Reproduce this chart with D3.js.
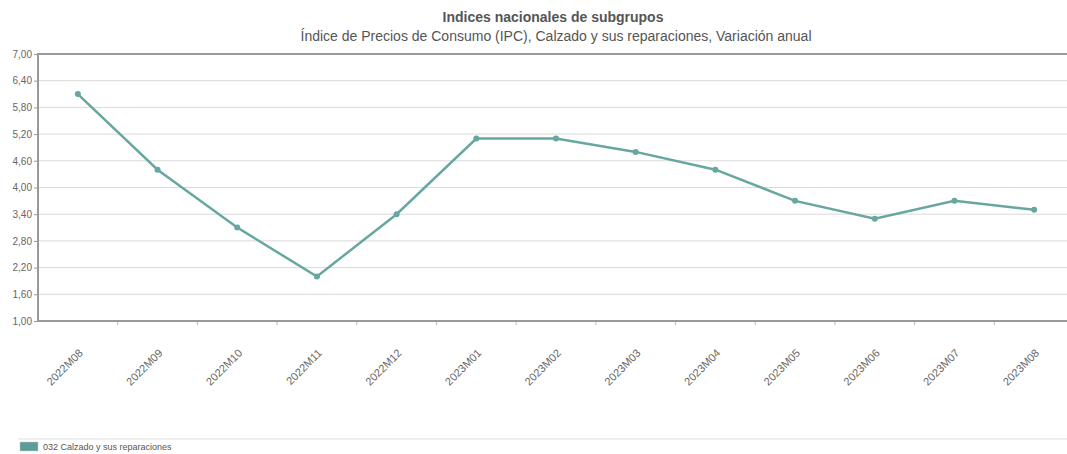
<!DOCTYPE html>
<html>
<head>
<meta charset="utf-8">
<script src="https://cdn.jsdelivr.net/npm/d3@7"></script>
<style>
  body { margin: 0; background: #fff; font-family: "Liberation Sans", Arial, sans-serif; }
  #chart { width: 1067px; height: 454px; overflow: hidden; }
</style>
</head>
<body>
<div id="chart"></div>
<script>
// data
var periods = ["2022M08", "2022M09", "2022M10", "2022M11", "2022M12", "2023M01", "2023M02",
               "2023M03", "2023M04", "2023M05", "2023M06", "2023M07", "2023M08"];
var values = [6.10, 4.40, 3.10, 2.00, 3.40, 5.10, 5.10, 4.80, 4.40, 3.70, 3.30, 3.70, 3.50];
var yTicks = [1.00, 1.60, 2.20, 2.80, 3.40, 4.00, 4.60, 5.20, 5.80, 6.40, 7.00];
var seriesName = "032 Calzado y sus reparaciones";
var title = "Indices nacionales de subgrupos";
var subtitle = "Índice de Precios de Consumo (IPC), Calzado y sus reparaciones, Variación anual";

var margin = { top: 54, left: 38 };
var plotW = 1036, plotH = 267;
var lineColor = "#67a7a0";

var svg = d3.select("#chart").append("svg")
    .attr("width", 1067)
    .attr("height", 454);

// titles
svg.append("text")
    .attr("x", 553).attr("y", 22)
    .attr("text-anchor", "middle")
    .style("font-size", "14px").style("font-weight", "bold").style("fill", "#555")
    .text(title);
svg.append("text")
    .attr("x", 556).attr("y", 41)
    .attr("text-anchor", "middle")
    .style("font-size", "14px").style("fill", "#555")
    .text(subtitle);

var g = svg.append("g")
    .attr("transform", "translate(" + margin.left + "," + margin.top + ")");

var x = d3.scaleBand().domain(periods).range([0, plotW]);
var y = d3.scaleLinear().domain([1, 7]).range([plotH, 0]);

// gridlines
g.selectAll(".grid").data(yTicks.slice(1, -1)).enter()
  .append("line")
    .attr("x1", 0).attr("x2", plotW)
    .attr("y1", d => y(d)).attr("y2", d => y(d))
    .style("stroke", "#d9d9d9").style("stroke-width", 1);

// y axis
var yAxis = g.append("g")
    .call(d3.axisLeft(y).tickValues(yTicks).tickSize(4).tickPadding(2)
      .tickFormat(d => d3.format(".2f")(d).replace(".", ",")));
yAxis.select(".domain").remove();
yAxis.selectAll(".tick line").style("stroke", "#999");
yAxis.selectAll(".tick text").style("fill", "#666").style("font-size", "10px")
    .style("font-family", "'Liberation Sans', Arial, sans-serif");

// x axis
var xAxis = g.append("g")
    .attr("transform", "translate(0," + plotH + ")")
    .call(d3.axisBottom(x).tickSize(0).tickPadding(0));
xAxis.select(".domain").remove();
xAxis.selectAll(".tick text")
    .attr("transform", "translate(3,30) rotate(-45)")
    .attr("dy", "0.35em")
    .style("text-anchor", "end")
    .style("fill", "#666").style("font-size", "11px")
    .style("font-family", "'Liberation Sans', Arial, sans-serif");

// ticks between categories
g.selectAll(".xtick").data(periods.slice(1)).enter()
  .append("line")
    .attr("x1", d => x(d)).attr("x2", d => x(d))
    .attr("y1", plotH).attr("y2", plotH + 4)
    .style("stroke", "#bbb");

// frame lines
g.append("line").attr("x1", 0).attr("x2", plotW).attr("y1", 0).attr("y2", 0)
    .style("stroke", "#999").style("stroke-width", 2);
g.append("line").attr("x1", 0).attr("x2", plotW).attr("y1", plotH).attr("y2", plotH)
    .style("stroke", "#999").style("stroke-width", 2);
g.append("line").attr("x1", 0).attr("x2", 0).attr("y1", -1).attr("y2", plotH + 1)
    .style("stroke", "#999").style("stroke-width", 2);

// line series
var line = d3.line()
    .x((d, i) => x(periods[i]) + x.bandwidth() / 2)
    .y(d => y(d));
g.append("path")
    .datum(values)
    .attr("d", line)
    .style("fill", "none").style("stroke", lineColor).style("stroke-width", 2.5);

g.selectAll(".dot").data(values).enter()
  .append("circle")
    .attr("cx", (d, i) => x(periods[i]) + x.bandwidth() / 2)
    .attr("cy", d => y(d))
    .attr("r", 3)
    .style("fill", lineColor);

// legend
svg.append("line").attr("x1", 18).attr("x2", 1067).attr("y1", 439).attr("y2", 439)
    .style("stroke", "#ddd");
svg.append("rect").attr("x", 20).attr("y", 442).attr("width", 18).attr("height", 9)
    .style("fill", "#5a9e96").style("stroke", "#ccc").style("stroke-width", 0.5);
svg.append("text").attr("x", 43).attr("y", 450)
    .style("font-size", "9px").style("fill", "#555")
    .text(seriesName);
</script>
</body>
</html>
